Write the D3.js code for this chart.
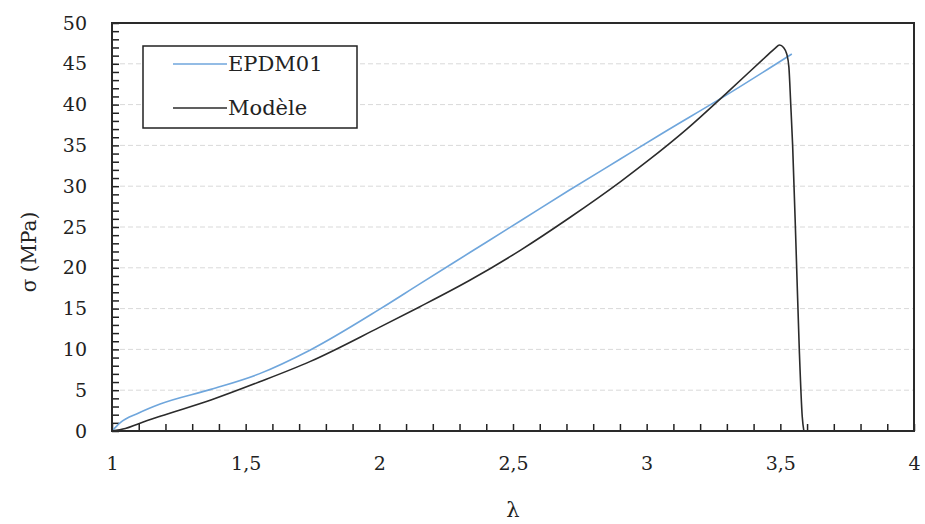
<!DOCTYPE html>
<html><head><meta charset="utf-8">
<script src="https://cdn.jsdelivr.net/npm/d3@7"></script>
<style>body{margin:0;background:#fff;} text{font-family:"DejaVu Serif",serif;}</style>
</head><body><svg id="c" width="925" height="524"></svg>
<script>
const epdmLambda = [1.0, 1.03, 1.1, 1.18, 1.37, 1.55, 1.74, 2.0, 2.15, 2.34, 2.53, 2.71, 2.9, 3.05, 3.31, 3.543];
const epdmSigma  = [0, 1.0, 2.2, 3.3, 5.1, 7.0, 9.9, 14.9, 18.0, 21.9, 25.8, 29.5, 33.3, 36.3, 41.4, 46.2];
const modelLambda = [1.0, 1.05, 1.1, 1.18, 1.37, 1.55, 1.74, 2.0, 2.15, 2.34, 2.53, 2.71, 2.9, 3.0, 3.15, 3.305, 3.45, 3.48, 3.497, 3.512, 3.524, 3.532, 3.539, 3.546, 3.559, 3.571, 3.582, 3.588];
const modelSigma  = [0, 0.3, 0.9, 1.8, 3.8, 6.0, 8.5, 12.7, 15.2, 18.5, 22.2, 26.1, 30.5, 33.0, 37.0, 41.6, 46.0, 46.9, 47.3, 47.0, 46.2, 44.6, 40.0, 35.0, 22.2, 9.9, 1.75, 0];
const xTicks = [1, 1.5, 2, 2.5, 3, 3.5, 4];
const yTicks = [0, 5, 10, 15, 20, 25, 30, 35, 40, 45, 50];
const seriesNames = ["EPDM01", "Modèle"];
const seriesColors = ["#6fa6dc", "#2b2b2b"];

const svg = d3.select("#c");
const L = 112, R = 914, T = 23, B = 431;
const x = d3.scaleLinear().domain([1, 4]).range([L, R]);
const y = d3.scaleLinear().domain([0, 50]).range([B, T]);
const fmt = d => String(d).replace(".", ",");

// gridlines
svg.append("g").selectAll("line").data(yTicks.filter(v => v > 0 && v < 50)).join("line")
  .attr("x1", L).attr("x2", R).attr("y1", d => y(d)).attr("y2", d => y(d))
  .attr("stroke", "#d9d9d9").attr("stroke-width", 1).attr("stroke-dasharray", "5,3");

// minor ticks (inside)
const xMinor = d3.range(0, 31).map(i => 1 + i * 0.1);
const yMinor = d3.range(0, 51);
svg.append("g").attr("transform", `translate(0,${B})`)
  .call(d3.axisBottom(x).tickValues(xMinor).tickSize(-7).tickFormat(""))
  .call(g => { g.select(".domain").remove(); g.selectAll("line").attr("stroke", "#222").attr("stroke-width", 1.5); });
svg.append("g").attr("transform", `translate(${L},0)`)
  .call(d3.axisLeft(y).tickValues(yMinor).tickSize(-7).tickFormat(""))
  .call(g => { g.select(".domain").remove(); g.selectAll("line").attr("stroke", "#222").attr("stroke-width", 1.5); });

// tick labels
svg.append("g").attr("transform", `translate(0,${B})`)
  .call(d3.axisBottom(x).tickValues(xTicks).tickSize(0).tickPadding(26).tickFormat(fmt))
  .call(g => { g.select(".domain").remove(); g.selectAll("text").attr("font-family", "DejaVu Serif").attr("font-size", 19).attr("fill", "#222"); });
svg.append("g").attr("transform", `translate(${L},0)`)
  .call(d3.axisLeft(y).tickValues(yTicks).tickSize(0).tickPadding(25).tickFormat(fmt))
  .call(g => { g.select(".domain").remove(); g.selectAll("text").attr("font-family", "DejaVu Serif").attr("font-size", 19).attr("fill", "#222"); });

// lines
const line = d3.line().x(d => x(d[0])).y(d => y(d[1])).curve(d3.curveMonotoneX);
const epdm = epdmLambda.map((l, i) => [l, epdmSigma[i]]);
const model = modelLambda.map((l, i) => [l, modelSigma[i]]);
svg.append("path").datum(epdm).attr("d", line).attr("fill", "none").attr("stroke", seriesColors[0]).attr("stroke-width", 1.6);
svg.append("path").datum(model).attr("d", line).attr("fill", "none").attr("stroke", seriesColors[1]).attr("stroke-width", 1.6);

// frame
svg.append("rect").attr("x", L).attr("y", T).attr("width", R - L).attr("height", B - T)
  .attr("fill", "none").attr("stroke", "#2a2a2a").attr("stroke-width", 2);

// legend
const lg = svg.append("g");
lg.append("rect").attr("x", 143).attr("y", 46).attr("width", 214).attr("height", 82)
  .attr("fill", "#fff").attr("stroke", "#222").attr("stroke-width", 1.5);
[64, 108].forEach((ly, i) => {
  lg.append("line").attr("x1", 173).attr("x2", 227).attr("y1", ly).attr("y2", ly)
    .attr("stroke", seriesColors[i]).attr("stroke-width", 1.6);
  lg.append("text").attr("x", 228).attr("y", ly).attr("dy", "0.35em")
    .attr("font-size", 21).attr("fill", "#222").text(seriesNames[i]);
});

// axis titles
svg.append("text").attr("x", (L + R) / 2).attr("y", 517).attr("text-anchor", "middle")
  .attr("font-size", 21).attr("fill", "#222").text("λ");
svg.append("text").attr("transform", "translate(36,252) rotate(-90)").attr("text-anchor", "middle")
  .attr("font-size", 20).attr("fill", "#222").text("σ (MPa)");
</script></body></html>
